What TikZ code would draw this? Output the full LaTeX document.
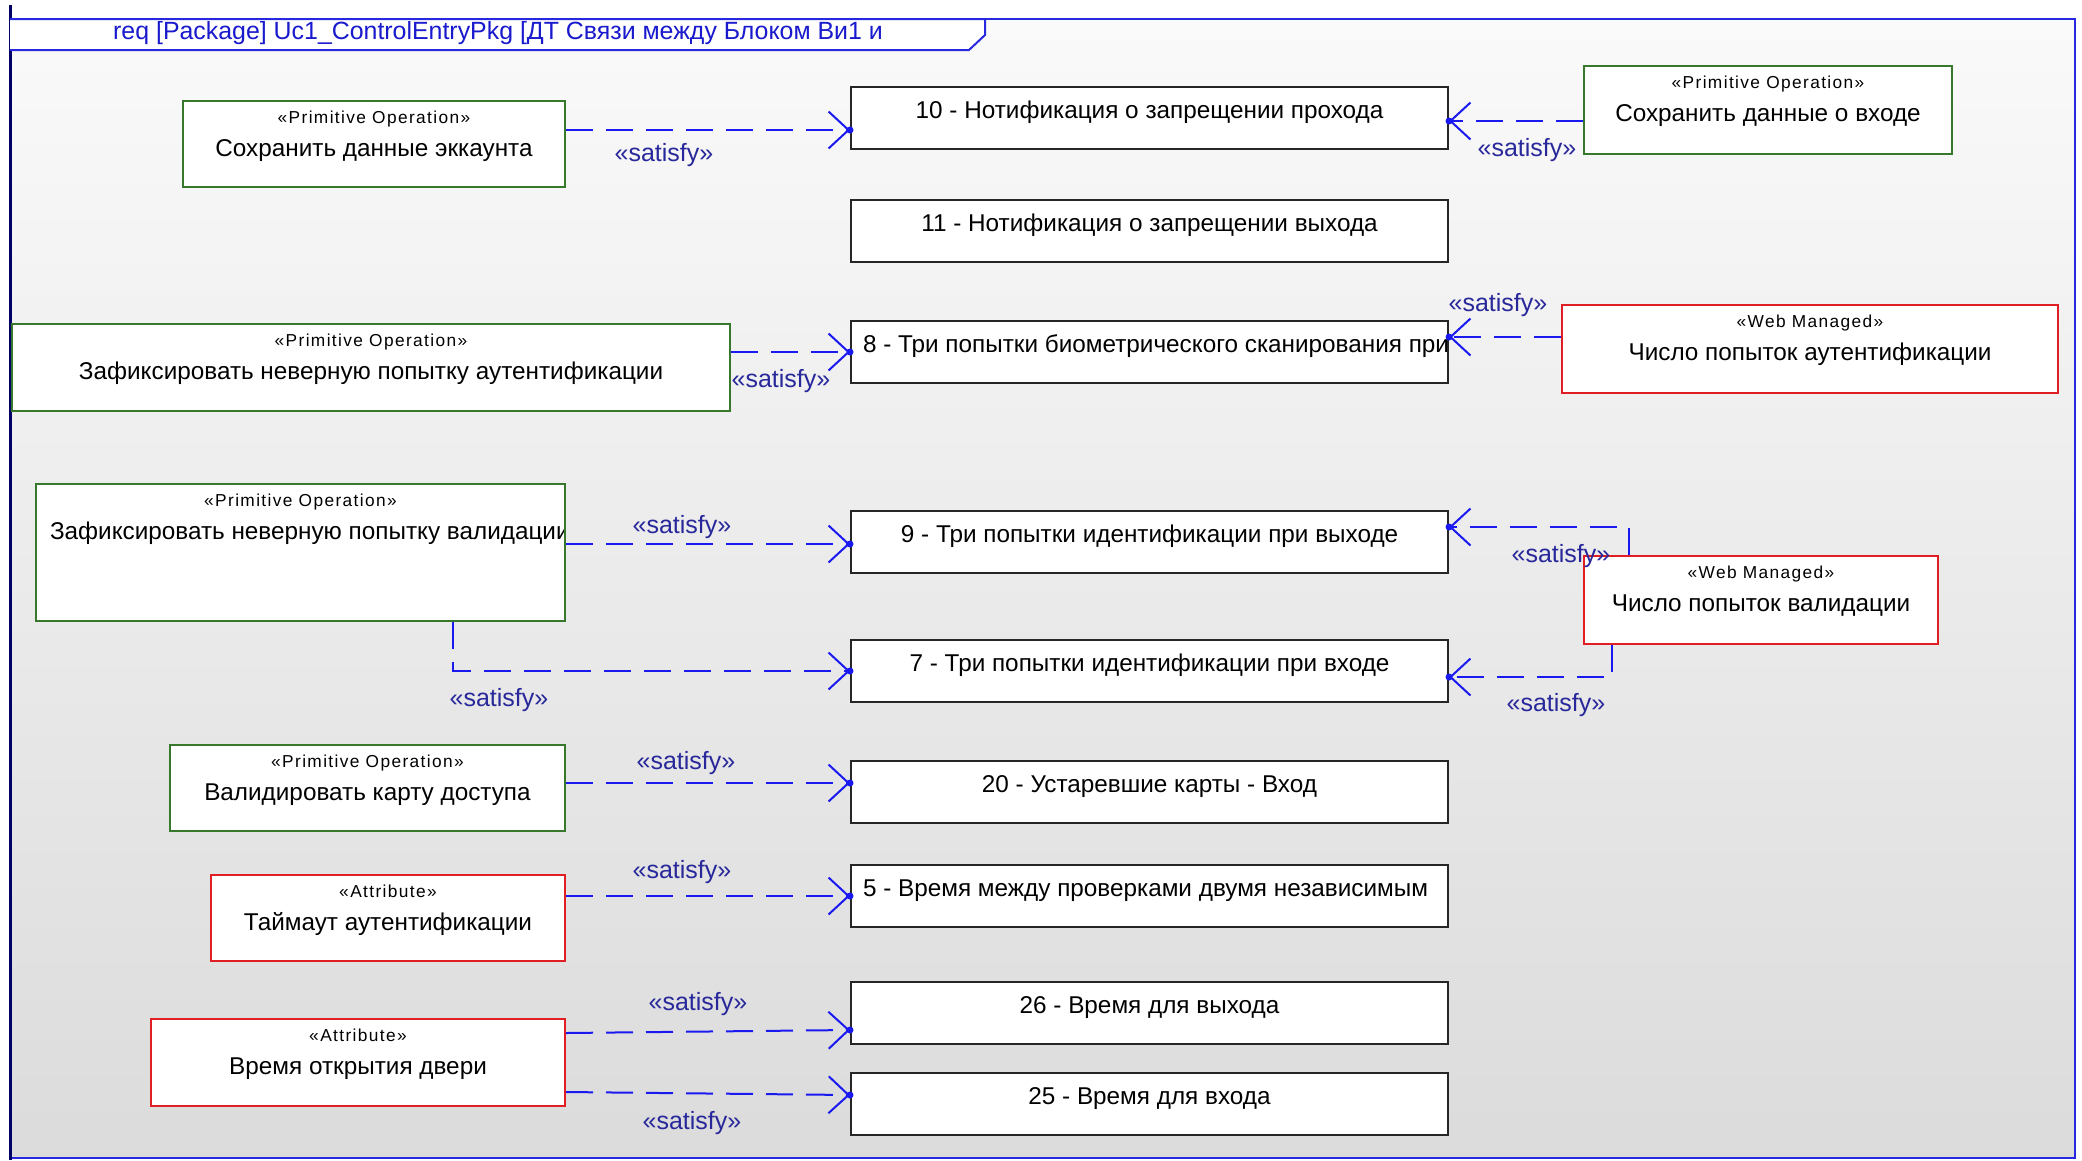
\documentclass[tikz,border=0pt]{standalone}
\usepackage{fontspec}
\setmainfont{Liberation Sans}
\usetikzlibrary{arrows.meta}
\definecolor{frameblue}{RGB}{40,40,225}
\definecolor{linkblue}{RGB}{25,25,240}
\definecolor{lblblue}{RGB}{40,40,155}
\definecolor{opgreen}{RGB}{55,120,45}
\definecolor{wmred}{RGB}{225,30,35}
\definecolor{titleblue}{RGB}{25,25,205}
\newcommand\stfont{\fontsize{17.3}{20}\selectfont\addfontfeature{LetterSpace=8}}
\newcommand\nmfont{\fontsize{24.3}{28}\selectfont}
\newcommand\lblfont{\fontsize{25}{28}\selectfont}
\newcommand\ttlfont{\fontsize{24.9}{28}\selectfont}
\tikzset{
  basebox/.style={draw, line width=2pt, fill=white, inner sep=0pt, anchor=north west, font=\nmfont},
  reqbox/.style={basebox, draw=black!85, minimum width=597pt, minimum height=62pt, text height=31pt, text depth=31pt},
  opbox/.style={basebox, draw=opgreen},
  wmbox/.style={basebox, draw=wmred},
  cliptext/.style={anchor=base west, inner sep=0pt, draw=none, fill=none, minimum width=0pt, minimum height=0pt, text height=, text depth=, font=\nmfont},
  stereo/.style={font=\stfont, inner sep=0pt, anchor=base},
  sat/.style={draw=linkblue, line width=2pt, dash pattern=on 27pt off 13pt, -{Straight Barb[length=20pt,width=37pt]}},
  tipdot/.style={fill=linkblue},
  satlbl/.style={text=lblblue, font=\lblfont, inner sep=0pt},
}
\begin{document}
\begin{tikzpicture}[x=1pt,y=-1pt]
\useasboundingbox (0,0) rectangle (2082,1160);
\fill[white] (0,0) rectangle (2082,1160);
\shade[top color=black!2, bottom color=black!14] (10,19) rectangle (2075,1158);
\draw[frameblue, line width=2.5pt] (10,19) rectangle (2075,1158);
\draw[black!60!blue, line width=3pt] (10,5) -- (10,1160);
\draw[frameblue, line width=2pt, fill=white] (10,19) -- (985,19) -- (985,35) -- (969,50) -- (10,50);
\node[anchor=west, text=titleblue, font=\ttlfont, inner sep=0pt] (title) at (113,33) {req [Package] Uc1\_ControlEntryPkg [ДТ Связи между Блоком Ви1 и};

% requirement boxes
\node[reqbox] (r10) at (850,86) {10 - Нотификация о запрещении прохода};
\node[reqbox] (r11) at (850,199) {11 - Нотификация о запрещении выхода};
\node[reqbox, text height=0pt, text depth=0pt, path picture={\node[cliptext] (r8t) at ([xshift=11pt,yshift=-31pt]path picture bounding box.north west) {8 - Три попытки биометрического сканирования при};}] (r8) at (850,320) {};
\node[reqbox] (r9) at (850,510) {9 - Три попытки идентификации при выходе};
\node[reqbox] (r7) at (850,639) {7 - Три попытки идентификации при входе};
\node[reqbox] (r20) at (850,760) {20 - Устаревшие карты - Вход};
\node[reqbox, text height=0pt, text depth=0pt, path picture={\node[cliptext] (r5t) at ([xshift=11pt,yshift=-31pt]path picture bounding box.north west) {5 - Время между проверками двумя независимым};}] (r5) at (850,864) {};
\node[reqbox] (r26) at (850,981) {26 - Время для выхода};
\node[reqbox] (r25) at (850,1072) {25 - Время для входа};

% operation / attribute boxes
\node[opbox, minimum width=382pt, minimum height=86pt, text height=55pt, text depth=31pt] (op1) at (182,100) {Сохранить данные эккаунта};
\node[stereo] (op1s) at ([yshift=-23pt]op1.north) {«Primitive Operation»};
\node[opbox, minimum width=368pt, minimum height=88pt, text height=55pt, text depth=33pt] (op2) at (1583,65) {Сохранить данные о входе};
\node[stereo] (op2s) at ([yshift=-23pt]op2.north) {«Primitive Operation»};
\node[opbox, minimum width=718pt, minimum height=87pt, text height=55pt, text depth=32pt] (op3) at (11,323) {Зафиксировать неверную попытку аутентификации};
\node[stereo] (op3s) at ([yshift=-23pt]op3.north) {«Primitive Operation»};
\node[wmbox, minimum width=496pt, minimum height=88pt, text height=55pt, text depth=33pt] (wm1) at (1561,304) {Число попыток аутентификации};
\node[stereo] (wm1s) at ([yshift=-23pt]wm1.north) {«Web Managed»};
\node[opbox, minimum width=529pt, minimum height=137pt, path picture={\node[cliptext] (op4t) at ([xshift=13pt,yshift=-55pt]path picture bounding box.north west) {Зафиксировать неверную попытку валидации};}] (op4) at (35,483) {};
\node[stereo] (op4s) at ([yshift=-23pt]op4.north) {«Primitive Operation»};
\node[wmbox, minimum width=354pt, minimum height=88pt, text height=55pt, text depth=33pt] (wm2) at (1583,555) {Число попыток валидации};
\node[stereo] (wm2s) at ([yshift=-23pt]wm2.north) {«Web Managed»};
\node[opbox, minimum width=395pt, minimum height=86pt, text height=55pt, text depth=31pt] (op5) at (169,744) {Валидировать карту доступа};
\node[stereo] (op5s) at ([yshift=-23pt]op5.north) {«Primitive Operation»};
\node[wmbox, minimum width=354pt, minimum height=86pt, text height=55pt, text depth=31pt] (at1) at (210,874) {Таймаут аутентификации};
\node[stereo] (at1s) at ([yshift=-23pt]at1.north) {«Attribute»};
\node[wmbox, minimum width=414pt, minimum height=87pt, text height=55pt, text depth=32pt] (at2) at (150,1018) {Время открытия двери};
\node[stereo] (at2s) at ([yshift=-23pt]at2.north) {«Attribute»};

% connectors
\draw[sat] (op1.east |- 0,130) -- (r10.west |- 0,130);
\draw[sat] (op2.west |- 0,121) -- (r10.east |- 0,121);
\draw[sat] (op3.east |- 0,352) -- (r8.west |- 0,352);
\draw[sat] (wm1.west |- 0,337) -- (r8.east |- 0,337);
\draw[sat] (op4.east |- 0,544) -- (r9.west |- 0,544);
\draw[sat] (op4.south -| 453,0) |- (r7.west |- 0,671);
\draw[sat] (wm2.north -| 1629,0) |- (r9.east |- 0,527);
\draw[sat] (wm2.south -| 1612,0) |- (r7.east |- 0,677);
\draw[sat] (op5.east |- 0,783) -- (r20.west |- 0,783);
\draw[sat] (at1.east |- 0,896) -- (r5.west |- 0,896);
\draw[sat] (at2.east |- 0,1033) -- (r26.west |- 0,1030);
\draw[sat] (at2.east |- 0,1092) -- (r25.west |- 0,1095);

% small dots at the arrow tips
\fill[tipdot] (r10.west |- 0,130) circle (3.5pt);
\fill[tipdot] (r10.east |- 0,121) circle (3.5pt);
\fill[tipdot] (r8.west |- 0,352) circle (3.5pt);
\fill[tipdot] (r8.east |- 0,337) circle (3.5pt);
\fill[tipdot] (r9.west |- 0,544) circle (3.5pt);
\fill[tipdot] (r7.west |- 0,671) circle (3.5pt);
\fill[tipdot] (r9.east |- 0,527) circle (3.5pt);
\fill[tipdot] (r7.east |- 0,677) circle (3.5pt);
\fill[tipdot] (r20.west |- 0,783) circle (3.5pt);
\fill[tipdot] (r5.west |- 0,896) circle (3.5pt);
\fill[tipdot] (r26.west |- 0,1030) circle (3.5pt);
\fill[tipdot] (r25.west |- 0,1095) circle (3.5pt);

% labels
\node[satlbl] (la) at (664,155) {«satisfy»};
\node[satlbl] (lb) at (1527,150) {«satisfy»};
\node[satlbl] (lc) at (781,381) {«satisfy»};
\node[satlbl] (ld) at (1498,305) {«satisfy»};
\node[satlbl] (le) at (682,527) {«satisfy»};
\node[satlbl] (lf) at (499,700) {«satisfy»};
\node[satlbl] (lg) at (1561,556) {«satisfy»};
\node[satlbl] (lh) at (1556,705) {«satisfy»};
\node[satlbl] (li) at (686,763) {«satisfy»};
\node[satlbl] (lj) at (682,872) {«satisfy»};
\node[satlbl] (lk) at (698,1004) {«satisfy»};
\node[satlbl] (ll) at (692,1123) {«satisfy»};
\end{tikzpicture}
\end{document}
